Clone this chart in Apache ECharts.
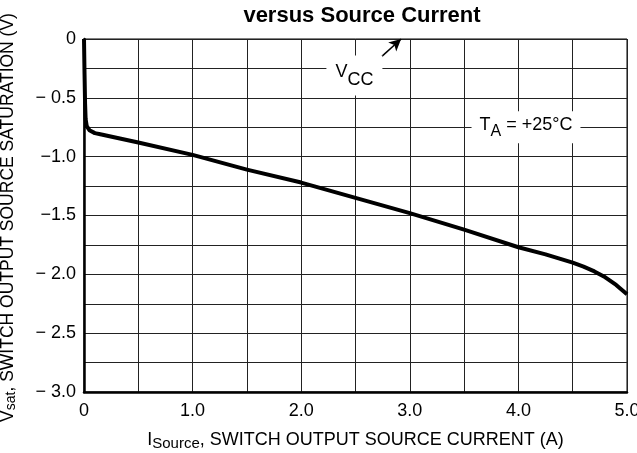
<!DOCTYPE html>
<html>
<head>
<meta charset="utf-8">
<script src="https://cdn.jsdelivr.net/npm/echarts@6/dist/echarts.min.js"></script>
<style>
  html, body { margin: 0; padding: 0; background: #fff; }
  #chart { width: 637px; height: 453px; }
</style>
</head>
<body>
<div id="chart"></div>
<script>
// source current (A) and saturation voltage (V)
const current = [0, 0.005, 0.01, 0.015, 0.025, 0.05, 0.1, 0.15, 0.5, 1.0, 1.5, 2.0, 2.5, 3.0, 3.5, 4.0, 4.25, 4.5, 4.6, 4.7, 4.8, 4.9, 5.0]
const vsat = [0, -0.3, -0.55, -0.68, -0.74, -0.775, -0.8, -0.81, -0.88, -0.985, -1.11, -1.22, -1.35, -1.48, -1.62, -1.77, -1.83, -1.9, -1.935, -1.975, -2.025, -2.09, -2.17]

const xTickLabels = ['0', '1.0', '2.0', '3.0', '4.0', '5.0']
const yTickLabels = ['0', '\u2212 0.5', '\u22121.0', '\u22121.5', '\u2212 2.0', '\u2212 2.5', '\u2212 3.0']

// annotation anchors (data coords)
const vccLabelAt = [2.49, -0.31]
const vccArrow = [[2.74, -0.15], [2.92, 0]]
const taLabelAt = [4.07, -0.75]

const FONT = '"Liberation Sans", Arial, sans-serif'

const chart = echarts.init(document.getElementById('chart'))

const points = current.map((c, i) => [c, vsat[i]])

const option = {
  animation: false,
  backgroundColor: '#fff',
  title: {
    text: 'versus Source Current',
    left: 357,
    textAlign: 'center',
    top: 0,
    textStyle: {
      fontFamily: FONT,
      fontWeight: 'bold',
      fontSize: 22,
      color: '#000'
    }
  },
  grid: {
    left: 84,
    right: 10,
    top: 39,
    bottom: 61,
    outerBoundsMode: 'none',
    containLabel: false,
    show: true,
    borderColor: '#000',
    borderWidth: 1
  },
  xAxis: {
    type: 'value',
    min: 0,
    max: 5,
    interval: 0.5,
    axisLine: { show: true, onZero: false, lineStyle: { color: '#000', width: 2.5 } },
    axisTick: { show: false },
    splitLine: { show: true, lineStyle: { color: '#222', width: 1 } },
    axisLabel: {
      margin: 10,
      fontFamily: FONT,
      fontSize: 18,
      color: '#000',
      formatter: (v) => {
        if (Math.abs(v - Math.round(v)) > 1e-6) return ''
        return xTickLabels[Math.round(v)]
      }
    },
    name: '{m|I}{s|Source}{m|, SWITCH OUTPUT SOURCE CURRENT (A)}',
    nameLocation: 'middle',
    nameGap: 39,
    nameTextStyle: {
      color: '#000',
      rich: {
        m: { fontFamily: FONT, fontSize: 18, lineHeight: 20, verticalAlign: 'top', color: '#000' },
        s: { fontFamily: FONT, fontSize: 15, lineHeight: 15, verticalAlign: 'bottom', color: '#000' }
      }
    }
  },
  yAxis: {
    type: 'value',
    min: -3,
    max: 0,
    interval: 0.25,
    axisLine: { show: true, onZero: false, lineStyle: { color: '#000', width: 2.5 } },
    axisTick: { show: false },
    splitLine: { show: true, lineStyle: { color: '#222', width: 1 } },
    axisLabel: {
      margin: 8,
      fontFamily: FONT,
      fontSize: 18,
      color: '#000',
      formatter: (v) => {
        const k = -v / 0.5
        if (Math.abs(k - Math.round(k)) > 1e-6) return ''
        return yTickLabels[Math.round(k)]
      }
    },
    name: '{m|V}{s|sat}{m|, SWITCH OUTPUT SOURCE SATURATION (V)}',
    nameLocation: 'middle',
    nameGap: 66,
    nameRotate: 90,
    nameTextStyle: {
      color: '#000',
      padding: [0, 4, 0, 0],
      rich: {
        m: { fontFamily: FONT, fontSize: 17.5, lineHeight: 19, verticalAlign: 'top', color: '#000' },
        s: { fontFamily: FONT, fontSize: 14, lineHeight: 14, verticalAlign: 'bottom', color: '#000' }
      }
    }
  },
  series: [
    {
      type: 'line',
      data: points,
      smooth: false,
      symbol: 'none',
      silent: true,
      lineStyle: { color: '#000', width: 4, join: 'round' },
      markPoint: {
        silent: true,
        symbol: 'rect',
        symbolSize: 0,
        data: [
          {
            coord: vccLabelAt,
            label: {
              show: true,
              position: 'inside',
              formatter: '{v|V}{s|CC}',
              backgroundColor: '#fff',
              padding: [8, 9, 6, 9],
              rich: {
                v: { fontFamily: FONT, fontSize: 18, lineHeight: 18, verticalAlign: 'top', color: '#000' },
                s: { fontFamily: FONT, fontSize: 18, lineHeight: 26, verticalAlign: 'bottom', color: '#000' }
              }
            }
          },
          {
            coord: taLabelAt,
            label: {
              show: true,
              position: 'inside',
              formatter: '{v|T}{s|A}{v| = +25°C}',
              backgroundColor: '#fff',
              padding: [5, 8, 4, 8],
              rich: {
                v: { fontFamily: FONT, fontSize: 18, lineHeight: 18, verticalAlign: 'top', color: '#000' },
                s: { fontFamily: FONT, fontSize: 16, lineHeight: 23, verticalAlign: 'bottom', color: '#000' }
              }
            }
          }
        ]
      },
      markLine: {
        silent: true,
        symbol: ['none', 'arrow'],
        symbolSize: [9, 12],
        label: { show: false },
        lineStyle: { color: '#000', width: 1.5, type: 'solid' },
        data: [[{ coord: vccArrow[0] }, { coord: vccArrow[1] }]]
      }
    }
  ]
}

chart.setOption(option)
</script>
</body>
</html>
